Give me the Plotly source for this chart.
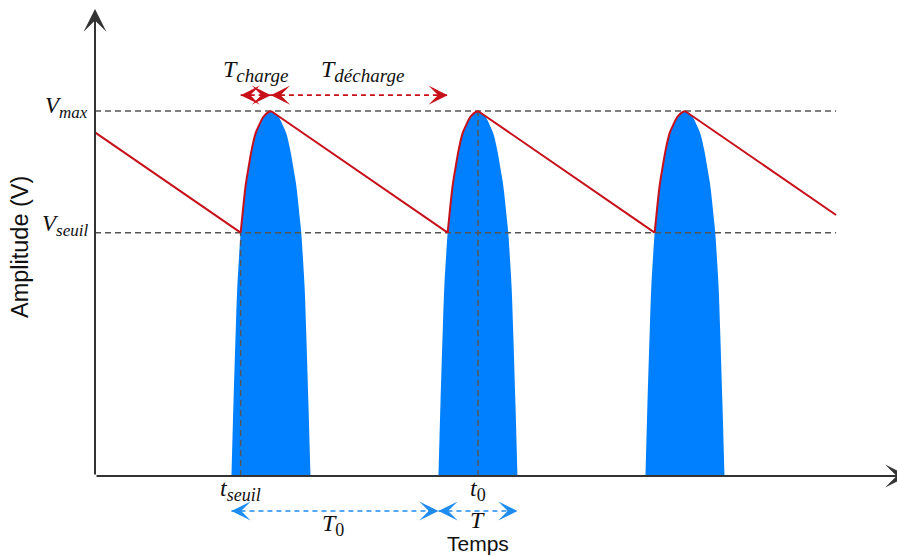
import plotly.graph_objects as go

# ---- signal description (time in ms, voltage in V) ----
peak_times = [8.5, 18.5, 28.5]       # instants of the pulse maxima
v_max = 12.0
v_seuil = 8.0
t_end = 35.8                           # end of the drawn traces

# pulse shape: voltage level and half-width (ms) of the pulse at that level
profile_v = [12.0, 11.93, 11.8, 11.55, 11.27, 10.72, 10.16, 9.62, 9.07, 8.52,
             8.0, 7.0, 6.18, 4.8, 2.4, 0.0]
profile_hw = [0.0, 0.19, 0.372, 0.56, 0.739, 0.932, 1.077, 1.208, 1.304, 1.386,
              1.464, 1.56, 1.628, 1.70, 1.81, 1.908]

# ---- colours / fonts ----
BLUE_FILL = "#0080FF"
BLUE_ARROW = "#1E8CF0"
RED = "#C8101A"
GUIDE = "#555555"
AXIS = "#333333"
SERIF = "Liberation Serif"
SANS = "Liberation Sans"

period = peak_times[1] - peak_times[0]
hw_seuil = profile_hw[profile_v.index(v_seuil)]
hw_base = profile_hw[-1]
slope = (v_max - v_seuil) / (period - hw_seuil)   # discharge slope, V/ms

fig = go.Figure()

# rectified pulses (filled)
for tp in peak_times:
    xs = [tp - h for h in reversed(profile_hw)] + [tp + h for h in profile_hw[1:]]
    ys = list(reversed(profile_v)) + profile_v[1:]
    fig.add_trace(go.Scatter(x=xs, y=ys, mode="lines", fill="toself",
                             fillcolor=BLUE_FILL, line=dict(width=0, shape="spline"),
                             hoverinfo="skip", showlegend=False))

# guide lines
def guide(xs, ys):
    fig.add_trace(go.Scatter(x=xs, y=ys, mode="lines",
                             line=dict(color=GUIDE, width=1.5, dash="6px,4px"),
                             hoverinfo="skip", showlegend=False))

t_seuil = peak_times[0] - hw_seuil
t_zero = peak_times[1]
guide([0, t_end], [v_max, v_max])
guide([0, t_end], [v_seuil, v_seuil])
guide([t_seuil, t_seuil], [0, v_seuil])
guide([t_zero, t_zero], [0, v_max])

# filtered output: linear discharge segments
def red_line(xs, ys, shape="linear"):
    fig.add_trace(go.Scatter(x=xs, y=ys, mode="lines",
                             line=dict(color=RED, width=2, shape=shape),
                             hoverinfo="skip", showlegend=False))

prev_peak = peak_times[0] - period
red_line([0, peak_times[0] - hw_seuil],
         [v_max - slope * (0 - prev_peak), v_seuil])
for i, tp in enumerate(peak_times):
    if i + 1 < len(peak_times):
        red_line([tp, peak_times[i + 1] - hw_seuil], [v_max, v_seuil])
    else:
        red_line([tp, t_end], [v_max, v_max - slope * (t_end - tp)])

# charging segments follow the pulse from V_seuil to the peak
k = profile_v.index(v_seuil)
for tp in peak_times:
    xs = [tp - h for h in reversed(profile_hw[:k + 1])]
    ys = list(reversed(profile_v[:k + 1]))
    red_line(xs, ys, shape="spline")

annotations = []

# dimension arrows: dashed shaft + two heads
def dim_arrow(x0, x1, y, color):
    fig.add_trace(go.Scatter(x=[x0, x1], y=[y, y], mode="lines",
                             line=dict(color=color, width=1.6, dash="5px,4px"),
                             hoverinfo="skip", showlegend=False))
    for x, d in ((x0, 1), (x1, -1)):
        annotations.append(dict(x=x, y=y, xref="x", yref="y", ax=9 * d, ay=0,
                                text="", showarrow=True, arrowhead=3,
                                arrowsize=2.0, arrowwidth=1.6, arrowcolor=color))

y_top_arrow = 12.52
y_bot_arrow = -1.15
dim_arrow(t_seuil, peak_times[0], y_top_arrow, RED)
dim_arrow(peak_times[0], peak_times[1] - hw_seuil, y_top_arrow, RED)
dim_arrow(peak_times[0] - hw_base, peak_times[1] - hw_base, y_bot_arrow, BLUE_ARROW)
dim_arrow(peak_times[1] - hw_base, peak_times[1] + hw_base, y_bot_arrow, BLUE_ARROW)

# axes with arrowheads
annotations.append(dict(x=0, y=15.35, xref="x", yref="y", ax=0, ay=0,
                        axref="x", ayref="y", text="", showarrow=True,
                        arrowhead=3, arrowsize=1.9, arrowwidth=2, arrowcolor=AXIS))
annotations.append(dict(x=1.0, y=0, xref="paper", yref="y", ax=-814, ay=0,
                        xshift=12, text="", showarrow=True, arrowhead=3,
                        arrowsize=1.9, arrowwidth=2, arrowcolor=AXIS))

# text labels
def label(text, x, y, size=24, xanchor="center", family=SERIF, **kw):
    annotations.append(dict(x=x, y=y, xref="x", yref="y", text=text,
                            showarrow=False, xanchor=xanchor, yanchor="middle",
                            font=dict(family=family, size=size, color="#111111"), **kw))

def sub(txt, italic=True, px=18):
    inner = f"<i>{txt}</i>" if italic else txt
    return f"<sub><span style='font-size:{px}px'>{inner}</span></sub>"

label("<i>V</i>" + sub("max", px=17), -0.22, v_max + 0.12, size=23, xanchor="right")
label("<i>V</i>" + sub("seuil", px=17), -0.22, v_seuil + 0.25, size=23, xanchor="right")
label("<i>T</i>" + sub("charge", px=19), (t_seuil + peak_times[0]) / 2, 13.3)
label("<i>T</i>" + sub("décharge", px=19),
      (peak_times[0] + peak_times[1] - hw_seuil) / 2 + 0.15, 13.3)
label("<i>t</i>" + sub("seuil", px=18), t_seuil, -0.45)
label("<i>t</i>" + sub("0", italic=False, px=18), t_zero, -0.45)
label("<i>T</i>" + sub("0", italic=False, px=18),
      peak_times[0] - hw_base + period / 2 - 0.1, -1.62)
label("<i>T</i>", peak_times[1], -1.45)
label("Temps", peak_times[1], -2.22, size=21, family=SANS)
label("Amplitude (V)", -3.62, 7.53, size=23.5, family=SANS, textangle=-90)

px_per_ms = 20.7
px_per_v = 30.42
fig.update_layout(
    width=897, height=556,
    margin=dict(l=0, r=0, t=0, b=0),
    paper_bgcolor="white", plot_bgcolor="white",
    xaxis=dict(range=[-95 / px_per_ms, 802 / px_per_ms], visible=False, fixedrange=True),
    yaxis=dict(range=[-80 / px_per_v, 476 / px_per_v], visible=False, fixedrange=True),
    annotations=annotations,
    showlegend=False,
)

fig.write_html("out.html", config={"displayModeBar": False})
